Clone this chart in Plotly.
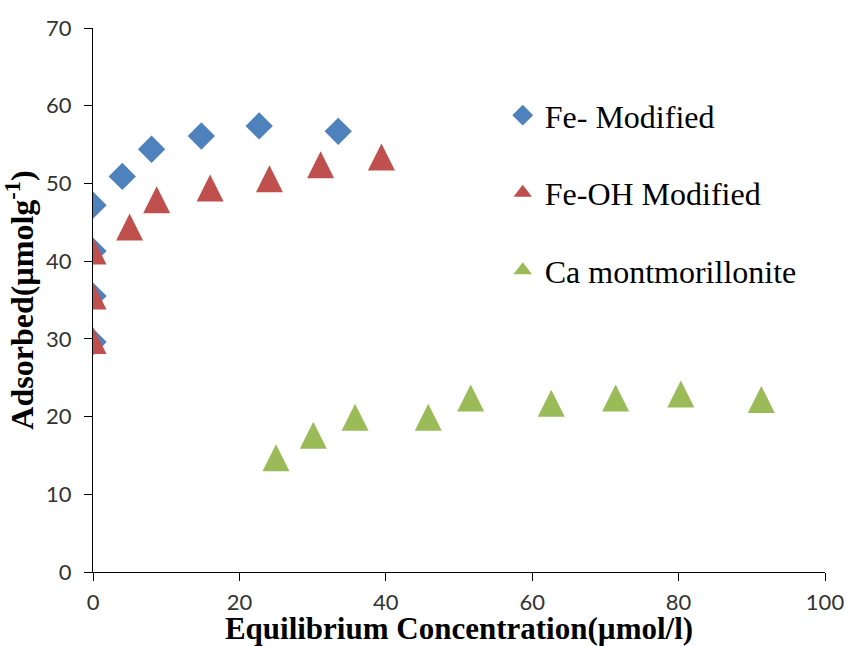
import plotly.graph_objects as go

# Data
fe_x = [0, 0, 0, 0, 4.0, 8.0, 14.8, 22.7, 33.5]
fe_y = [29.6, 35.5, 41.3, 47.2, 50.9, 54.4, 56.1, 57.4, 56.7]

feoh_x = [0, 0, 0, 5.0, 8.7, 16.0, 24.1, 31.1, 39.4]
feoh_y = [29.8, 35.5, 41.3, 44.4, 47.9, 49.4, 50.6, 52.4, 53.4]

ca_x = [25.0, 30.1, 35.8, 45.8, 51.6, 62.6, 71.4, 80.3, 91.3]
ca_y = [14.7, 17.6, 19.9, 19.9, 22.4, 21.7, 22.4, 22.9, 22.2]

names = ["Fe- Modified", "Fe-OH Modified", "Ca montmorillonite"]
colors = ["#4F81BD", "#C0504D", "#9BBB59"]

x_ticks = [0, 20, 40, 60, 80, 100]
y_ticks = [0, 10, 20, 30, 40, 50, 60, 70]

tri_size = 27
leg_size = 16

fig = go.Figure()

fig.add_trace(go.Scatter(
    x=fe_x, y=fe_y, mode="markers", name=names[0], showlegend=False,
    marker=dict(symbol="diamond", size=21, color=colors[0], line=dict(width=0)),
))
fig.add_trace(go.Scatter(
    x=feoh_x, y=feoh_y, mode="markers", name=names[1], showlegend=False,
    marker=dict(symbol="arrow-down", angle=180, standoff=tri_size / 2,
                size=tri_size, color=colors[1], line=dict(width=0)),
))
fig.add_trace(go.Scatter(
    x=ca_x, y=ca_y, mode="markers", name=names[2], showlegend=False,
    marker=dict(symbol="arrow-down", angle=180, standoff=tri_size / 2,
                size=tri_size, color=colors[2], line=dict(width=0)),
))

# legend entries
leg_symbols = ["diamond", "triangle-up", "triangle-up"]
for i in range(3):
    fig.add_trace(go.Scatter(
        x=[None], y=[None], mode="markers", name=names[i],
        legendgroup=f"g{i}",
        marker=dict(symbol=leg_symbols[i], size=leg_size, color=colors[i], line=dict(width=0)),
    ))

tick_font = dict(family="Lato, Open Sans, sans-serif", size=22, color="#333333")
title_font = dict(family="Liberation Serif, Times New Roman, serif", size=32, color="#000000")
xtitle_font = dict(family="Liberation Serif, Times New Roman, serif", size=31, color="#000000")

fig.update_layout(
    width=849, height=646,
    margin=dict(l=93, r=24, t=28, b=74),
    paper_bgcolor="white", plot_bgcolor="white",
    showlegend=True,
    legend=dict(
        x=0.557, y=0.89, xanchor="left", yanchor="top",
        font=dict(family="Liberation Serif, Times New Roman, serif", size=32, color="#000000"),
        tracegroupgap=33, itemwidth=34, bgcolor="rgba(0,0,0,0)",
    ),
    xaxis=dict(
        range=[0, 100], tickvals=x_ticks, showgrid=False, zeroline=False,
        showline=True, linecolor="#000000", linewidth=1.3,
        ticks="outside", ticklen=8, tickcolor="#000000", tickwidth=1.3,
        tickfont=tick_font, ticklabelstandoff=2, automargin=False,
        title=dict(text="<b>Equilibrium Concentration(µmol/l)</b>", font=xtitle_font, standoff=6),
    ),
    yaxis=dict(
        range=[0, 70], tickvals=y_ticks, showgrid=False, zeroline=False,
        showline=True, linecolor="#000000", linewidth=1.3,
        ticks="outside", ticklen=8, tickcolor="#000000", tickwidth=1.3,
        tickfont=tick_font, ticklabelstandoff=8, automargin=False,
        title=dict(text="<b>Adsorbed(µmolg<sup>-1</sup>)</b>", font=title_font, standoff=2),
    ),
)

fig.write_html("out.html")
